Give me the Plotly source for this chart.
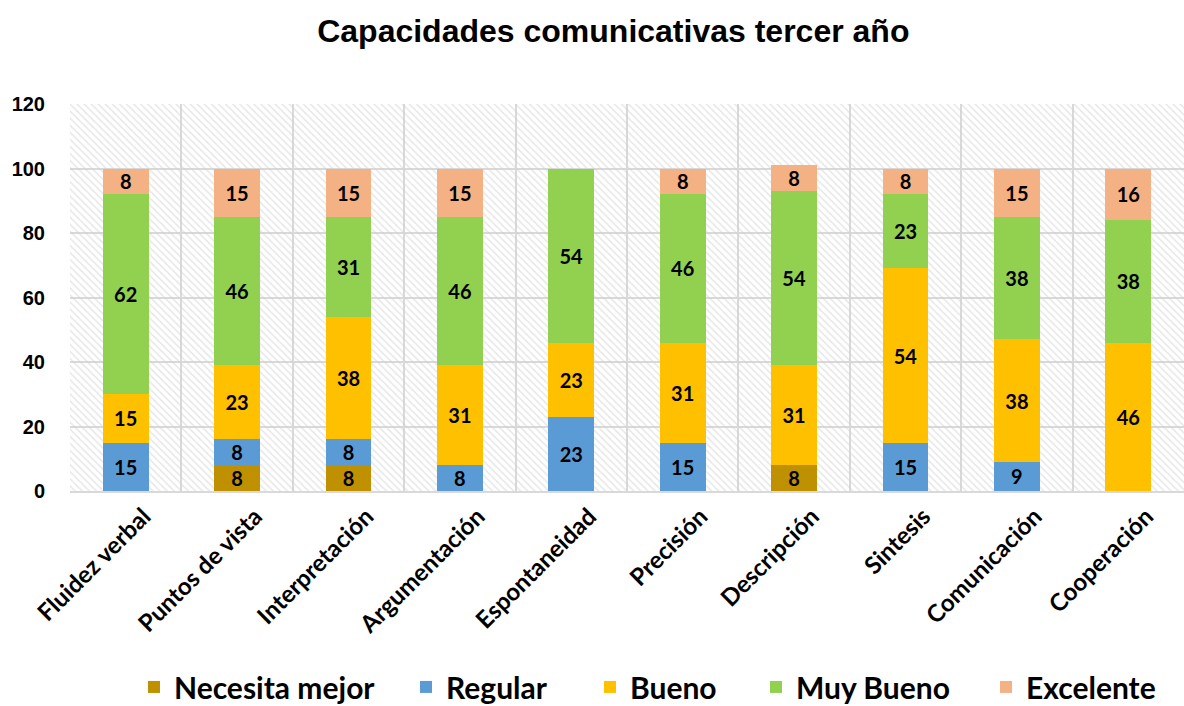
import plotly.graph_objects as go

categories = ["Fluidez verbal", "Puntos de vista", "Interpretación", "Argumentación",
              "Espontaneidad", "Precisión", "Descripción", "Sintesis", "Comunicación", "Cooperación"]
necesita = [0, 8, 8, 0, 0, 0, 8, 0, 0, 0]
regular = [15, 8, 8, 8, 23, 15, 0, 15, 9, 0]
bueno = [15, 23, 38, 31, 23, 31, 31, 54, 38, 46]
muy_bueno = [62, 46, 31, 46, 54, 46, 54, 23, 38, 38]
excelente = [8, 15, 15, 15, 0, 8, 8, 8, 15, 16]
y_ticks = [0, 20, 40, 60, 80, 100, 120]

series = [
    ("Necesita mejor", necesita, "#BF9000"),
    ("Regular", regular, "#5B9BD5"),
    ("Bueno", bueno, "#FFC000"),
    ("Muy Bueno", muy_bueno, "#92D050"),
    ("Excelente", excelente, "#F4B183"),
]
legend_left_px = [148, 420, 604, 770, 1000]

LF = "Lato"
W, H = 1184, 706
fig = go.Figure()

# hatched plot-area background
fig.add_trace(go.Bar(
    x=categories, y=[y_ticks[-1]] * len(categories), width=1,
    marker=dict(color="rgba(0,0,0,0)", line=dict(width=0),
                pattern=dict(shape="\\", fgcolor="#cfcfcf", bgcolor="rgba(0,0,0,0)",
                             size=5, solidity=0.3)),
    showlegend=False, hoverinfo="skip", xaxis="x", yaxis="y"))

legends = {}
for i, (name, vals, color) in enumerate(series):
    lg = "legend" if i == 0 else f"legend{i + 1}"
    fig.add_trace(go.Bar(
        name=name, x=categories, y=[v if v else None for v in vals],
        text=[str(v) if v else "" for v in vals],
        textposition="inside", insidetextanchor="middle", textangle=0,
        textfont=dict(family=LF, size=20, color="black", weight="bold"),
        constraintext="none",
        marker=dict(color=color, line=dict(width=0)),
        xaxis="x2", yaxis="y", legend=lg))
    legends[lg] = dict(orientation="h", xref="container", x=(legend_left_px[i] - 14) / W,
                       xanchor="left", yref="container", y=0.027, yanchor="middle",
                       bgcolor="rgba(0,0,0,0)",
                       font=dict(family=LF, size=30, color="black", weight="bold"),
                       itemwidth=30)

fig.update_layout(
    width=W, height=H,
    paper_bgcolor="white", plot_bgcolor="white",
    barmode="stack", bargap=0.59,
    margin=dict(l=70, r=0, t=104, b=215),
    title=dict(text="<b>Capacidades comunicativas tercer año</b>", x=0.518, xanchor="center",
               y=0.957, yanchor="middle",
               font=dict(family="Liberation Sans", size=32, color="black")),
    xaxis=dict(type="category", categoryorder="array", categoryarray=categories,
               tickson="boundaries", showgrid=True, gridcolor="#d9d9d9", gridwidth=2,
               ticks="", tickangle=-45, showline=True, linecolor="#d9d9d9", linewidth=2,
               automargin=False, ticklabelshift=18,
               tickfont=dict(family=LF, size=24, color="black", weight="bold"),
               range=[-0.5, len(categories) - 0.5]),
    xaxis2=dict(type="category", categoryorder="array", categoryarray=categories,
                overlaying="x", visible=False, range=[-0.5, len(categories) - 0.5]),
    yaxis=dict(range=[0, 120], tickvals=y_ticks, showgrid=True, gridcolor="#d9d9d9", gridwidth=2,
               zeroline=False, ticks="", ticklen=0, automargin=False, ticklabelstandoff=24,
               tickfont=dict(family="Liberation Sans", size=20, color="black", weight="bold")),
    **legends,
)

fig.write_html("out.html", config={"displayModeBar": False},
               post_script="document.body.style.margin='0';")
